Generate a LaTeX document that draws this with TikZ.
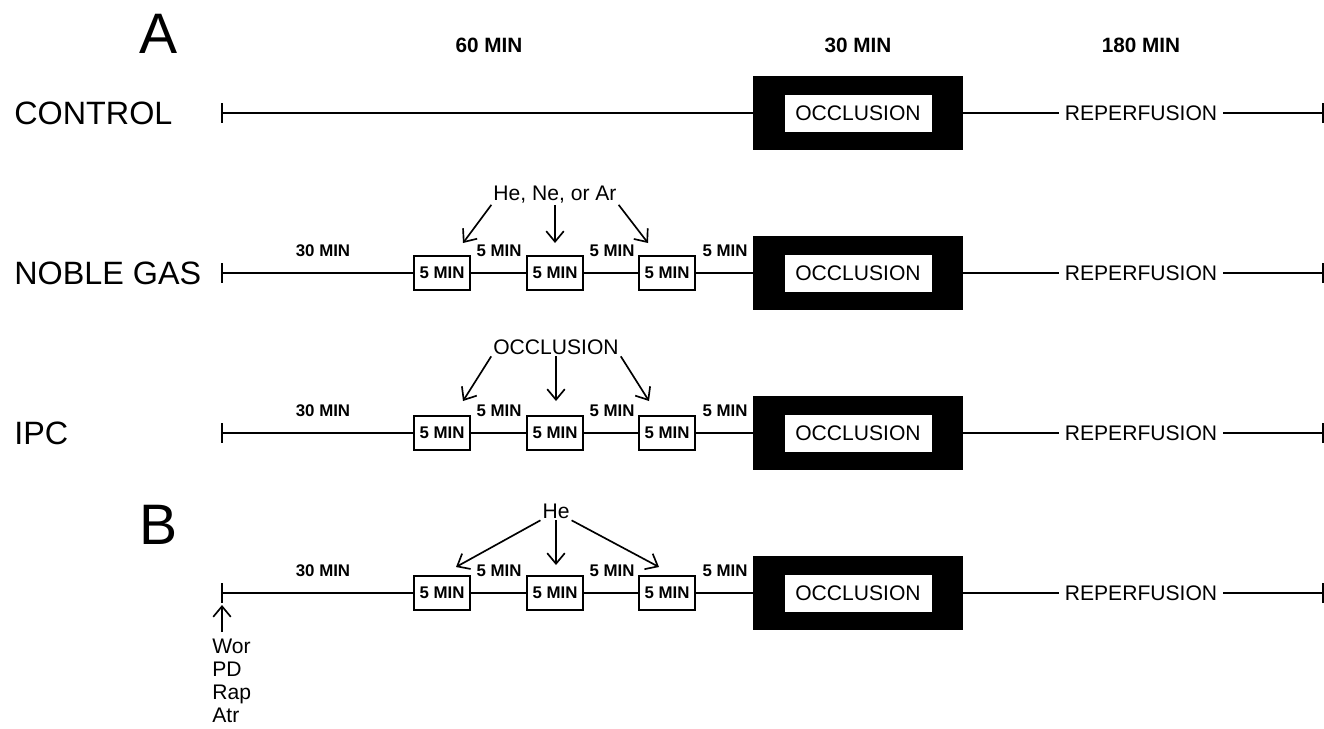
\documentclass[tikz,border=0pt]{standalone}
\usepackage{fontspec}
\setmainfont{Liberation Sans}
\usetikzlibrary{arrows.meta}

\begin{document}
\begin{tikzpicture}
	% Styles
	[
	x=0.02cm, y=-0.02cm,
	tl/.style={line width=1pt},
	panel/.style={font=\fontsize{32.5}{36}\selectfont},
	rowname/.style={anchor=west, inner sep=0pt, font=\fontsize{18.4}{20}\selectfont},
	header/.style={font=\bfseries\fontsize{11.8}{14}\selectfont},
	minlabel/.style={inner sep=0pt, font=\bfseries\fontsize{9.6}{11}\selectfont},
	fivebox/.style={draw, line width=0.9pt, minimum width=1.12cm, minimum height=0.68cm, inner sep=0pt, font=\bfseries\fontsize{9.6}{11}\selectfont},
	occbox/.style={fill=black, minimum width=4.2cm, minimum height=1.48cm, inner sep=0pt},
	occtext/.style={fill=white, minimum width=2.94cm, minimum height=0.74cm, inner sep=0pt, font=\fontsize{12}{14}\selectfont},
	reptext/.style={inner sep=3.4pt, font=\fontsize{12}{14}\selectfont},
	agent/.style={anchor=base, inner sep=1pt, font=\fontsize{12}{14}\selectfont},
	drug/.style={anchor=base west, inner sep=0pt, font=\fontsize{12}{14}\selectfont},
	gasarrow/.style={line width=0.95pt, -{Straight Barb[length=6pt,width=10pt]}},
	]
	\useasboundingbox (0,0) rectangle (1324,728);

	% Panel letters and header
	\node[panel] (pa) at (159,34) {A};
	\node[panel] (pb) at (159,525) {B};
	\node[header] (h60) at (489,45) {60 MIN};
	\node[header] (h30) at (858,45) {30 MIN};
	\node[header] (h180) at (1141,45) {180 MIN};

	% Control
	\node[rowname] (lc) at (14,113) {CONTROL};
	\coordinate (s1) at (222,113);
	\node[occbox] (o1) at (858,113) {};
	\node[occtext] (oc1) at (o1) {OCCLUSION};
	\node[reptext] (r1) at (1141,113) {REPERFUSION};
	\coordinate (e1) at (1323,113);

	\draw[tl] (s1) ++(0,-10) -- ++(0,20);
	\draw[tl] (e1) ++(0,-10) -- ++(0,20);
	\draw[tl] (s1) -- (o1);
	\draw[tl] (o1) -- (r1);
	\draw[tl] (r1) -- (e1);

	% Noble gas
	\node[rowname] (ln) at (14,273) {NOBLE GAS};
	\coordinate (s2) at (222,273);
	\node[fivebox] (b21) at (442,273) {5 MIN};
	\node[fivebox] (b22) at (555,273) {5 MIN};
	\node[fivebox] (b23) at (667,273) {5 MIN};
	\node[occbox] (o2) at (858,273) {};
	\node[occtext] (oc2) at (o2) {OCCLUSION};
	\node[reptext] (r2) at (1141,273) {REPERFUSION};
	\coordinate (e2) at (1323,273);
	\node[minlabel] (m20) at (323,251) {30 MIN};
	\node[minlabel] (m21) at (499,251) {5 MIN};
	\node[minlabel] (m22) at (612,251) {5 MIN};
	\node[minlabel] (m23) at (725,251) {5 MIN};
	\node[agent] (gas) at (555,200) {He, Ne, or Ar};
	\coordinate (t21) at (463,243);
	\coordinate (t22) at (555,243);
	\coordinate (t23) at (648,243);

	\draw[tl] (s2) ++(0,-10) -- ++(0,20);
	\draw[tl] (e2) ++(0,-10) -- ++(0,20);
	\draw[tl] (s2) -- (b21);
	\draw[tl] (b21) -- (b22);
	\draw[tl] (b22) -- (b23);
	\draw[tl] (b23) -- (o2);
	\draw[tl] (o2) -- (r2);
	\draw[tl] (r2) -- (e2);
	\draw[gasarrow] (gas.south west) -- (t21);
	\draw[gasarrow] (gas.south) -- (t22);
	\draw[gasarrow] (gas.south east) -- (t23);

	% IPC
	\node[rowname] (li) at (14,433) {IPC};
	\coordinate (s3) at (222,433);
	\node[fivebox] (b31) at (442,433) {5 MIN};
	\node[fivebox] (b32) at (555,433) {5 MIN};
	\node[fivebox] (b33) at (667,433) {5 MIN};
	\node[occbox] (o3) at (858,433) {};
	\node[occtext] (oc3) at (o3) {OCCLUSION};
	\node[reptext] (r3) at (1141,433) {REPERFUSION};
	\coordinate (e3) at (1323,433);
	\node[minlabel] (m30) at (323,411) {30 MIN};
	\node[minlabel] (m31) at (499,411) {5 MIN};
	\node[minlabel] (m32) at (612,411) {5 MIN};
	\node[minlabel] (m33) at (725,411) {5 MIN};
	\node[agent] (ipc) at (556,354) {OCCLUSION};
	\coordinate (t31) at (463,401);
	\coordinate (t32) at (556,401);
	\coordinate (t33) at (649,401);

	\draw[tl] (s3) ++(0,-10) -- ++(0,20);
	\draw[tl] (e3) ++(0,-10) -- ++(0,20);
	\draw[tl] (s3) -- (b31);
	\draw[tl] (b31) -- (b32);
	\draw[tl] (b32) -- (b33);
	\draw[tl] (b33) -- (o3);
	\draw[tl] (o3) -- (r3);
	\draw[tl] (r3) -- (e3);
	\draw[gasarrow] (ipc.south west) -- (t31);
	\draw[gasarrow] (ipc.south) -- (t32);
	\draw[gasarrow] (ipc.south east) -- (t33);

	% B
	\coordinate (s4) at (222,593);
	\node[fivebox] (b41) at (442,593) {5 MIN};
	\node[fivebox] (b42) at (555,593) {5 MIN};
	\node[fivebox] (b43) at (667,593) {5 MIN};
	\node[occbox] (o4) at (858,593) {};
	\node[occtext] (oc4) at (o4) {OCCLUSION};
	\node[reptext] (r4) at (1141,593) {REPERFUSION};
	\coordinate (e4) at (1323,593);
	\node[minlabel] (m40) at (323,571) {30 MIN};
	\node[minlabel] (m41) at (499,571) {5 MIN};
	\node[minlabel] (m42) at (612,571) {5 MIN};
	\node[minlabel] (m43) at (725,571) {5 MIN};
	\node[agent] (he) at (556,518) {He};
	\coordinate (t41) at (456,567);
	\coordinate (t42) at (556,565);
	\coordinate (t43) at (659,567);

	\draw[tl] (s4) ++(0,-10) -- ++(0,20);
	\draw[tl] (e4) ++(0,-10) -- ++(0,20);
	\draw[tl] (s4) -- (b41);
	\draw[tl] (b41) -- (b42);
	\draw[tl] (b42) -- (b43);
	\draw[tl] (b43) -- (o4);
	\draw[tl] (o4) -- (r4);
	\draw[tl] (r4) -- (e4);
	\draw[gasarrow] (he.south west) -- (t41);
	\draw[gasarrow] (he.south) -- (t42);
	\draw[gasarrow] (he.south east) -- (t43);

	% Drugs
	\coordinate (dr) at (222,632);
	\coordinate (t44) at (222,605);
	\draw[gasarrow] (dr) -- (t44);
	\node[drug] (wor) at (212,653) {Wor};
	\node[drug] (pd) at (212,676) {PD};
	\node[drug] (rap) at (212,699) {Rap};
	\node[drug] (atr) at (212,722) {Atr};
\end{tikzpicture}
\end{document}
